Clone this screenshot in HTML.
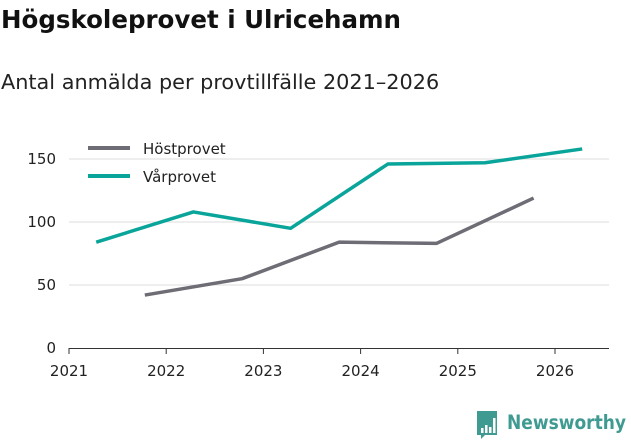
<!DOCTYPE html>
<html><head><meta charset="utf-8"><style>
body{margin:0;width:631px;height:439px;background:#fff;overflow:hidden;font-family:"DejaVu Sans","Liberation Sans",sans-serif}
svg text{font-family:"DejaVu Sans","Liberation Sans",sans-serif}
</style></head><body>
<svg id="c" width="631" height="439">
<text x="1" y="28" font-size="24.5" font-weight="bold" fill="#111">Högskoleprovet i Ulricehamn</text>
<text x="1" y="89" font-size="20.8" fill="#222">Antal anmälda per provtillfälle 2021–2026</text>
<g id="grid"></g><g id="axes"></g><g id="series"></g>
<g>
<line x1="88" y1="148" x2="130" y2="148" stroke="#6e6d75" stroke-width="4"/>
<text x="143" y="154" font-size="15" fill="#222">Höstprovet</text>
<line x1="88" y1="176" x2="130" y2="176" stroke="#0aa59a" stroke-width="4"/>
<text x="143" y="182" font-size="15" fill="#222">Vårprovet</text>
</g>
<g>
<path d="M477 411 h20 v24 h-12 l-4 4 v-4 h-4 z" fill="#3f9b91"/>
<rect x="481" y="428" width="2.5" height="5" fill="#fff"/><rect x="485" y="425" width="2.5" height="8" fill="#fff"/><rect x="489" y="427" width="2.5" height="6" fill="#fff"/><rect x="493" y="418" width="2.5" height="15" fill="#fff"/>
<text x="507" y="429" font-size="19.5" font-weight="bold" fill="#3f9b91" textLength="119" lengthAdjust="spacingAndGlyphs">Newsworthy</text>
</g>
</svg>
<script>
const years=[2021,2022,2023,2024,2025,2026];
const yTicks=[0,50,100,150];
const hostX=[2021.78,2022.78,2023.78,2024.78,2025.78];
const hostY=[42,55,84,83,119];
const varX=[2021.28,2022.28,2023.28,2024.28,2025.28,2026.28];
const varY=[84,108,95,146,147,158];
const NS='http://www.w3.org/2000/svg';
const xs=v=>69+(v-2021)*97.2;
const ys=v=>348-v*1.26;
function mk(t,a,p){const e=document.createElementNS(NS,t);for(const k in a)e.setAttribute(k,a[k]);p.appendChild(e);return e;}
const g=document.getElementById('grid'),ax=document.getElementById('axes'),s=document.getElementById('series');
yTicks.forEach(v=>{
 if(v>0){const l=mk('line',{x1:69,x2:609,y1:ys(v),y2:ys(v),stroke:'#dcdcdc','stroke-width':1},g);
 
 }
 const t=mk('text',{x:56,y:ys(v)+5,'font-size':15,fill:'#222','text-anchor':'end'},ax);t.textContent=v;
 
 
});
const base=mk('line',{x1:69,x2:609,y1:348.5,y2:348.5,stroke:'#333','stroke-width':1},ax);


years.forEach(y=>{
 const tk=mk('line',{x1:xs(y),x2:xs(y),y1:348,y2:354,stroke:'#333'},ax);
 
 
 const t=mk('text',{x:xs(y),y:376,'font-size':15,fill:'#222','text-anchor':'middle'},ax);t.textContent=y;
 
 
});
function line(X,Y,c,n){const p=mk('polyline',{points:X.map((x,i)=>xs(x)+','+ys(Y[i])).join(' '),fill:'none',stroke:c,'stroke-width':3.5,'stroke-linejoin':'round'},s);
 
 }
line(hostX,hostY,'#6e6d75','line-hostprovet');
line(varX,varY,'#0aa59a','line-varprovet');
</script>
</body></html>
